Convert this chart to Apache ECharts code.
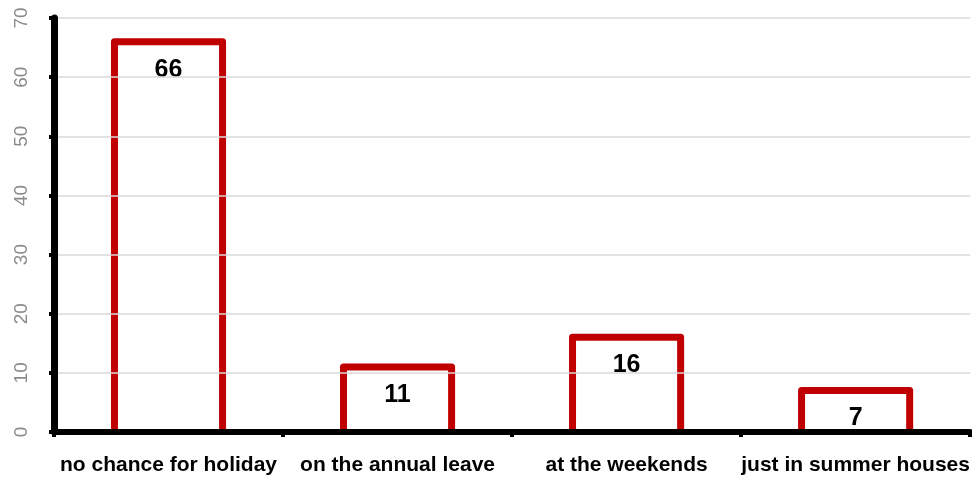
<!DOCTYPE html>
<html><head><meta charset="utf-8">
<script src="https://cdn.jsdelivr.net/npm/echarts@6/dist/echarts.min.js"></script>
<style>html,body{margin:0;padding:0;background:#fff}#c{width:972px;height:479px}</style>
</head><body><div id="c"></div>
<script>
const categories = ['no chance for holiday', 'on the annual leave', 'at the weekends', 'just in summer houses'];
const values = [66, 11, 16, 7];
const yTicks = [0, 10, 20, 30, 40, 50, 60, 70];

const chart = echarts.init(document.getElementById('c'), null, {renderer: 'canvas'});
chart.setOption({
  animation: false,
  backgroundColor: '#fff',
  grid: {left: 54, top: 18, width: 924, height: 414, containLabel: false},
  xAxis: {
    type: 'category',
    data: categories,
    z: 10,
    axisLine: {show: true, lineStyle: {color: '#000', width: 6}},
    axisTick: {show: true, length: 5, lineStyle: {color: '#000', width: 4}},
    axisLabel: {interval: 0, color: '#000', fontFamily: 'Liberation Sans, Arial, sans-serif', fontWeight: 'bold', fontSize: 21, margin: 23},
    splitLine: {show: false}
  },
  yAxis: {
    type: 'value',
    min: yTicks[0],
    max: yTicks[yTicks.length - 1],
    interval: 10,
    z: 10,
    axisLine: {show: true, lineStyle: {color: '#000', width: 7}},
    axisTick: {show: true, length: 5, lineStyle: {color: '#000', width: 4}},
    axisLabel: {color: '#8c8c8c', fontFamily: 'Liberation Sans, Arial, sans-serif', fontSize: 19, rotate: 90, margin: 32, verticalAlign: 'middle', align: 'center'},
    splitLine: {show: true, lineStyle: {color: '#d9d9d9', width: 1.5}}
  },
  series: [{
    type: 'custom',
    z: 2,
    data: values.map((v, i) => [i, v]),
    encode: {x: 0, y: 1},
    renderItem: function (params, api) {
      const top = api.coord([api.value(0), api.value(1)]);
      const base = api.coord([api.value(0), 0]);
      const half = api.size([1, 0])[0] * 0.472 / 2;
      return {
        type: 'group',
        children: [
          {
            type: 'polyline',
            shape: {points: [[top[0] - half, base[1]], [top[0] - half, top[1]], [top[0] + half, top[1]], [top[0] + half, base[1]]]},
            style: {stroke: '#c00000', lineWidth: 7, fill: null, lineJoin: 'round'}
          },
          {
            type: 'text',
            x: top[0], y: top[1] + 28,
            style: {text: String(api.value(1)), align: 'center', verticalAlign: 'middle', fill: '#000',
              font: 'bold 25px "Liberation Sans", Arial, sans-serif', backgroundColor: '#fff', padding: [0, 2]}
          }
        ]
      };
    }
  }]
});
</script>
</body></html>
